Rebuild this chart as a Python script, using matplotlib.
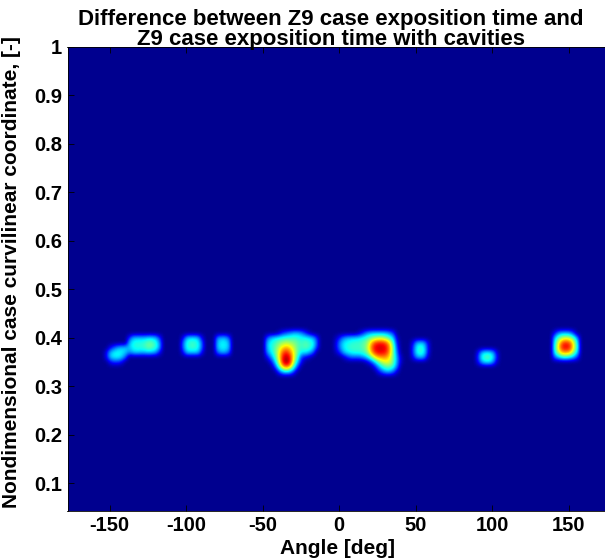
import numpy as np
import matplotlib
matplotlib.use("Agg")
import matplotlib.pyplot as plt
from matplotlib.colors import LinearSegmentedColormap

# ── Node grid: angle (deg) x curvilinear coordinate ───────────────────────
d_angle = 2.5
d_coord = 0.01
angle_nodes = np.arange(-180, 180 + d_angle / 2, d_angle)
coord_nodes = np.arange(0.0, 1.0 + d_coord / 2, d_coord)

# ── Patches of non-zero difference (0..1) ─────────────────────────────────
# each patch: left angle, top coordinate, rows from top to bottom
patch_angle0 = [-152.5, -137.5, -102.5, -80, -47.5, -2.5, 47.5, 90, 140]
patch_coord0 = [0.38, 0.40, 0.40, 0.40, 0.41, 0.41, 0.39, 0.37, 0.41]

blob_m145 = [
    [0.00, 0.10, 0.20, 0.28, 0.32, 0.32],
    [0.10, 0.30, 0.36, 0.38, 0.36, 0.32],
    [0.10, 0.30, 0.36, 0.36, 0.32, 0.20],
    [0.00, 0.10, 0.15, 0.15, 0.10, 0.00],
]
blob_m125 = [
    [0.15, 0.30, 0.32, 0.32, 0.32, 0.35, 0.35, 0.30, 0.15],
    [0.30, 0.38, 0.40, 0.40, 0.42, 0.47, 0.45, 0.40, 0.25],
    [0.30, 0.38, 0.40, 0.40, 0.42, 0.47, 0.45, 0.40, 0.25],
    [0.25, 0.30, 0.32, 0.30, 0.30, 0.32, 0.30, 0.25, 0.10],
]
blob_m96 = [
    [0.10, 0.30, 0.35, 0.35, 0.30, 0.10],
    [0.20, 0.38, 0.42, 0.42, 0.38, 0.20],
    [0.20, 0.38, 0.42, 0.42, 0.38, 0.20],
    [0.10, 0.30, 0.32, 0.32, 0.30, 0.10],
]
blob_m76 = [
    [0.25, 0.30, 0.30, 0.20],
    [0.30, 0.36, 0.36, 0.30],
    [0.30, 0.36, 0.36, 0.30],
    [0.20, 0.28, 0.28, 0.20],
]
blob_m34 = [
    [0.00, 0.00, 0.00, 0.05, 0.15, 0.20, 0.25, 0.30, 0.30, 0.25, 0.15, 0.05, 0.00, 0.00],
    [0.20, 0.30, 0.35, 0.38, 0.40, 0.42, 0.42, 0.42, 0.40, 0.38, 0.38, 0.35, 0.30, 0.15],
    [0.30, 0.38, 0.42, 0.48, 0.52, 0.55, 0.52, 0.50, 0.45, 0.42, 0.45, 0.42, 0.38, 0.20],
    [0.30, 0.38, 0.45, 0.55, 0.65, 0.70, 0.65, 0.55, 0.45, 0.42, 0.45, 0.42, 0.35, 0.15],
    [0.25, 0.35, 0.45, 0.60, 0.78, 0.85, 0.75, 0.60, 0.45, 0.35, 0.35, 0.30, 0.20, 0.00],
    [0.10, 0.25, 0.40, 0.60, 0.85, 0.97, 0.85, 0.60, 0.40, 0.15, 0.10, 0.05, 0.00, 0.00],
    [0.00, 0.10, 0.30, 0.55, 0.85, 1.00, 0.85, 0.55, 0.30, 0.10, 0.00, 0.00, 0.00, 0.00],
    [0.00, 0.00, 0.15, 0.40, 0.65, 0.75, 0.65, 0.40, 0.15, 0.00, 0.00, 0.00, 0.00, 0.00],
    [0.00, 0.00, 0.00, 0.15, 0.30, 0.35, 0.30, 0.15, 0.00, 0.00, 0.00, 0.00, 0.00, 0.00],
]
blob_p27 = [
    [0.00, 0.00, 0.00, 0.00, 0.00, 0.00, 0.05, 0.15, 0.25, 0.30, 0.32, 0.32, 0.32, 0.30, 0.25, 0.15, 0.00, 0.00],
    [0.05, 0.15, 0.25, 0.30, 0.32, 0.33, 0.35, 0.38, 0.42, 0.48, 0.52, 0.55, 0.55, 0.50, 0.42, 0.30, 0.05, 0.00],
    [0.10, 0.25, 0.35, 0.38, 0.40, 0.42, 0.42, 0.45, 0.50, 0.65, 0.80, 0.85, 0.85, 0.80, 0.65, 0.40, 0.10, 0.00],
    [0.10, 0.25, 0.35, 0.40, 0.42, 0.42, 0.42, 0.45, 0.52, 0.72, 0.88, 0.92, 0.92, 0.88, 0.72, 0.45, 0.15, 0.00],
    [0.05, 0.15, 0.30, 0.35, 0.38, 0.40, 0.40, 0.42, 0.48, 0.65, 0.82, 0.88, 0.88, 0.85, 0.70, 0.45, 0.20, 0.00],
    [0.00, 0.00, 0.05, 0.15, 0.20, 0.20, 0.20, 0.25, 0.32, 0.45, 0.60, 0.70, 0.72, 0.72, 0.62, 0.45, 0.25, 0.05],
    [0.00, 0.00, 0.00, 0.00, 0.00, 0.00, 0.00, 0.00, 0.05, 0.15, 0.30, 0.45, 0.55, 0.60, 0.58, 0.45, 0.25, 0.05],
    [0.00, 0.00, 0.00, 0.00, 0.00, 0.00, 0.00, 0.00, 0.00, 0.00, 0.10, 0.25, 0.38, 0.45, 0.45, 0.38, 0.20, 0.00],
    [0.00, 0.00, 0.00, 0.00, 0.00, 0.00, 0.00, 0.00, 0.00, 0.00, 0.00, 0.10, 0.20, 0.28, 0.28, 0.20, 0.05, 0.00],
]
blob_p52 = [
    [0.10, 0.28, 0.32, 0.28, 0.10],
    [0.15, 0.36, 0.42, 0.36, 0.12],
    [0.15, 0.36, 0.42, 0.36, 0.12],
    [0.10, 0.25, 0.30, 0.25, 0.05],
]
blob_p96 = [
    [0.10, 0.30, 0.36, 0.36, 0.28, 0.08],
    [0.15, 0.38, 0.45, 0.45, 0.35, 0.12],
    [0.10, 0.28, 0.35, 0.35, 0.25, 0.05],
]
blob_p147 = [
    [0.10, 0.25, 0.30, 0.30, 0.28, 0.15, 0.00],
    [0.30, 0.45, 0.55, 0.58, 0.55, 0.45, 0.25],
    [0.35, 0.60, 0.80, 0.85, 0.80, 0.60, 0.35],
    [0.38, 0.65, 0.85, 0.90, 0.85, 0.62, 0.38],
    [0.35, 0.55, 0.70, 0.72, 0.68, 0.50, 0.32],
    [0.20, 0.30, 0.38, 0.40, 0.35, 0.28, 0.15],
]
patches = [blob_m145, blob_m125, blob_m96, blob_m76, blob_m34,
           blob_p27, blob_p52, blob_p96, blob_p147]

ticks_x = [-150, -100, -50, 0, 50, 100, 150]
ticks_y = [0.1, 0.2, 0.3, 0.4, 0.5, 0.6, 0.7, 0.8, 0.9, 1.0]
tick_labels_y = ['0.1', '0.2', '0.3', '0.4', '0.5', '0.6', '0.7', '0.8', '0.9', '1']

# place patches on the node grid
field = np.zeros((len(coord_nodes), len(angle_nodes)))
for a0, c0, p in zip(patch_angle0, patch_coord0, patches):
    p = np.asarray(p)
    i_top = int(round(c0 / d_coord))
    j0 = int(round((a0 + 180) / d_angle))
    for r in range(p.shape[0]):
        field[i_top - r, j0:j0 + p.shape[1]] = np.maximum(
            field[i_top - r, j0:j0 + p.shape[1]], p[r])

# MATLAB-like jet
jet_ml = LinearSegmentedColormap.from_list('jet_ml', [
    (0.0, (0, 0, 0.5625)),
    (7 / 63, (0, 0, 1)),
    (23 / 63, (0, 1, 1)),
    (39 / 63, (1, 1, 0)),
    (55 / 63, (1, 0, 0)),
    (1.0, (0.5, 0, 0)),
])

plt.rcParams['font.family'] = ['Liberation Sans', 'DejaVu Sans']
plt.rcParams['font.weight'] = 'bold'
plt.rcParams['axes.unicode_minus'] = False

fig = plt.figure(figsize=(6.05, 5.59), dpi=100)
ax = fig.add_axes([67.5 / 605, 48.3 / 559, (611 - 67.5) / 605, (510.7 - 46.7) / 559])

ax.imshow(field, origin='lower', aspect='auto', cmap=jet_ml, vmin=0, vmax=1,
          interpolation='bicubic',
          extent=(-180 - d_angle / 2, 180 + d_angle / 2,
                  -d_coord / 2, 1 + d_coord / 2))
ax.set_xlim(-177.5, 177.5)
ax.set_ylim(0.043, 1.0)

ax.set_xticks(ticks_x)
ax.set_yticks(ticks_y)
ax.set_yticklabels(tick_labels_y)
ax.tick_params(direction='in', length=4, width=0.6, top=True, right=True,
               labelsize=14.5, colors='black')
ax.tick_params(axis='x', pad=4)
ax.tick_params(axis='y', pad=4)
for s in ax.spines.values():
    s.set_linewidth(0.6)

ax.set_xlabel('Angle [deg]', fontsize=15, fontweight='bold')
ax.xaxis.set_label_coords(0.497, -0.06)
ax.set_ylabel('Nondimensional case curvilinear coordinate, [-]', fontsize=15,
              fontweight='bold')
ax.yaxis.set_label_coords(-0.0856, 0.515)
fig.text(331 / 605, (559 - 49.5) / 559,
         'Difference between Z9 case exposition time and\nZ9 case exposition time with cavities',
         ha='center', va='bottom', fontsize=16, fontweight='bold', linespacing=0.93)

fig.savefig('out.png', dpi=100)
